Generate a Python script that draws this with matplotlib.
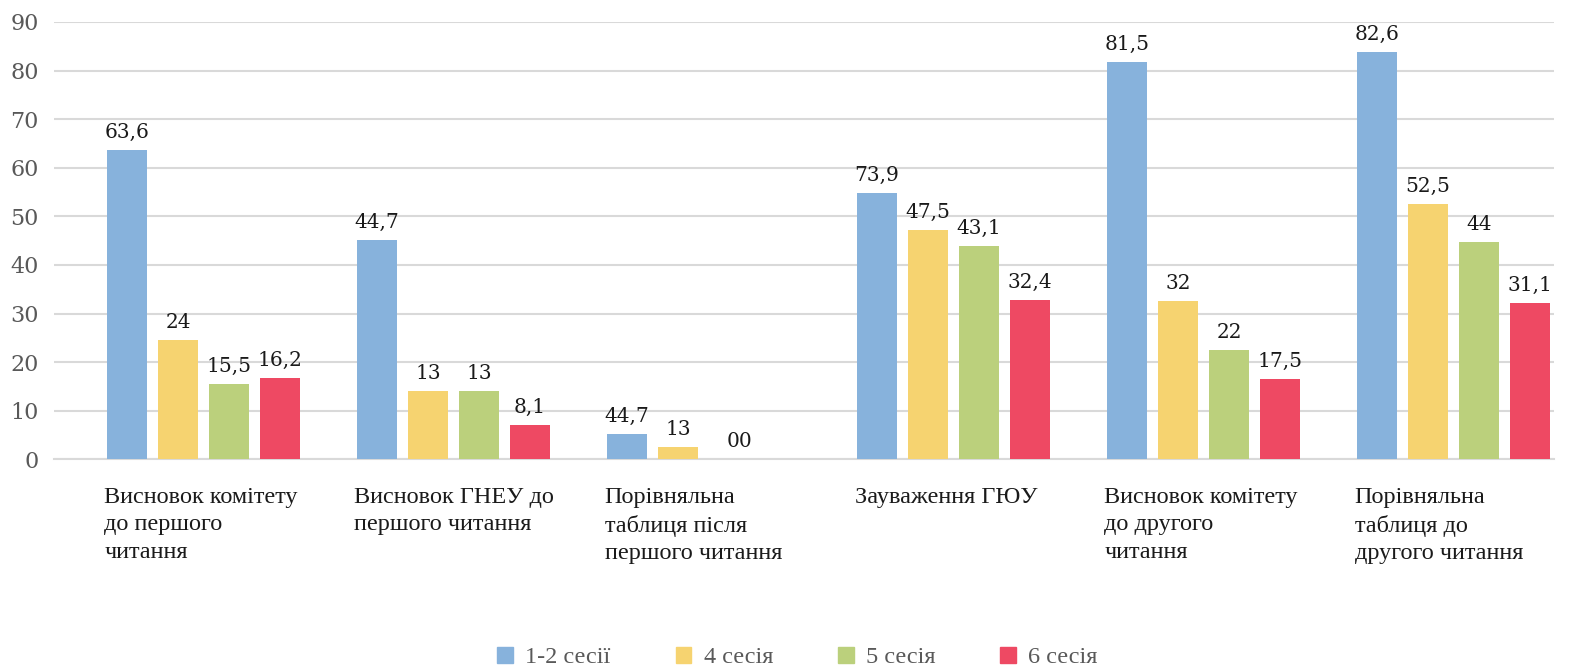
import numpy as np
import matplotlib
matplotlib.use("Agg")
from matplotlib import pyplot as plt
from matplotlib.transforms import blended_transform_factory
from matplotlib.patches import Patch

# категорії (підписи осі X)
categories = [
    "Висновок комітету\nдо першого\nчитання",
    "Висновок ГНЕУ до\nпершого читання",
    "Порівняльна\nтаблиця після\nпершого читання",
    "Зауваження ГЮУ",
    "Висновок комітету\nдо другого\nчитання",
    "Порівняльна\nтаблиця до\nдругого читання",
]
series = ["1-2 сесії", "4 сесія", "5 сесія", "6 сесія"]

# висоти стовпців, як їх намальовано
h_12 = [63.7, 45.2, 5.2, 54.8, 81.8, 83.9]
h_4 = [24.6, 14.1, 2.5, 47.2, 32.6, 52.6]
h_5 = [15.5, 14.1, 0, 43.9, 22.5, 44.7]
h_6 = [16.7, 7.1, 0, 32.8, 16.5, 32.2]

# підписи даних (не завжди збігаються з висотою)
lab_12 = ["63,6", "44,7", "44,7", "73,9", "81,5", "82,6"]
lab_4 = ["24", "13", "13", "47,5", "32", "52,5"]
lab_5 = ["15,5", "13", "00", "43,1", "22", "44"]
lab_6 = ["16,2", "8,1", "", "32,4", "17,5", "31,1"]

colors = ["#87B2DC", "#F6D370", "#BBD07C", "#EE4963"]

heights = [h_12, h_4, h_5, h_6]
labels = [lab_12, lab_4, lab_5, lab_6]

W, H = 1579, 668
fig = plt.figure(figsize=(W / 100, H / 100), dpi=100)
ax = fig.add_axes([54 / W, (H - 459.3) / H, 1500 / W, 437.3 / H])

x = np.arange(len(categories))
start = 0.212   # відступ першого стовпця в категорії
bw = 0.16
step = 0.204

for s in range(4):
    xs = x + start + s * step
    ax.bar(xs, heights[s], width=bw, align="edge", color=colors[s], zorder=3)
    for i in range(len(categories)):
        dx = 0.04 if labels[s][i] == "00" else 0
        ax.annotate(labels[s][i], (xs[i] + bw / 2 + dx, heights[s][i]),
                    xytext=(0, 8.6), textcoords="offset points",
                    ha="center", va="baseline", fontsize=14.5,
                    family="DejaVu Serif", color="#1a1a1a")

ax.set_xlim(0, 6)
ax.set_ylim(0, 90)
ax.set_yticks(range(0, 91, 10))
ax.set_xticks([])
ax.grid(axis="y", color="#D9D9D9", linewidth=1.5, zorder=0)
for sp in ["top", "right", "left"]:
    ax.spines[sp].set_visible(False)
ax.spines["bottom"].set_color("#D9D9D9")
ax.spines["bottom"].set_linewidth(1.5)
ax.tick_params(axis="y", length=0, pad=11, labelsize=16, labelcolor="#595959")
for t in ax.get_yticklabels():
    t.set_family("DejaVu Serif")

tr = blended_transform_factory(ax.transData, ax.transAxes)
for i, c in enumerate(categories):
    ax.text(x[i] + start - 0.01, -0.063, c, transform=tr, ha="left", va="top",
            fontsize=17.5, family="Liberation Serif", color="#1a1a1a",
            linespacing=1.4)

handles = [Patch(color=colors[s], label=series[s]) for s in range(4)]
fig.legend(handles=handles, loc="lower center", ncol=4, frameon=False,
           bbox_to_anchor=(0.505, -0.033), prop={"family": "Liberation Serif", "size": 17.5},
           labelcolor="#595959", handlelength=0.65, handleheight=0.65,
           handletextpad=0.5, columnspacing=2.67)

fig.savefig("out.png", dpi=100)
